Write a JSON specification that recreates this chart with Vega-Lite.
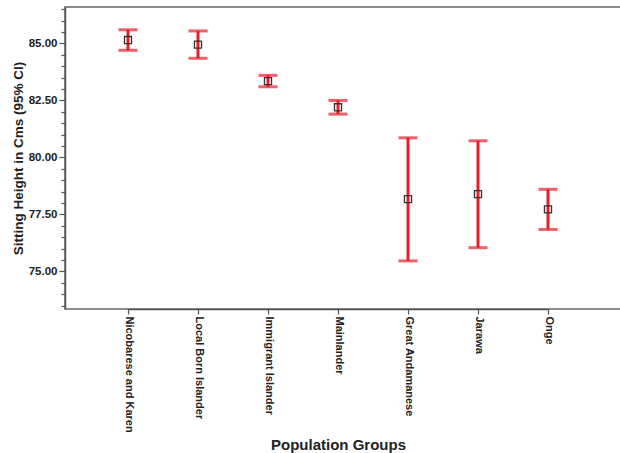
{
  "$schema": "https://vega.github.io/schema/vega-lite/v6.json",
  "autosize": "none",
  "width": 560,
  "height": 302,
  "padding": {"left": 65, "top": 7, "right": 0, "bottom": 144},
  "background": "white",
  "data": {"values": [
    {"group": "Nicobarese and Karen", "mean": 85.15, "lower": 84.7, "upper": 85.6},
    {"group": "Local Born Islander", "mean": 84.95, "lower": 84.35, "upper": 85.55},
    {"group": "Immigrant Islander", "mean": 83.35, "lower": 83.1, "upper": 83.6},
    {"group": "Mainlander", "mean": 82.2, "lower": 81.9, "upper": 82.5},
    {"group": "Great Andamanese", "mean": 78.17, "lower": 75.46, "upper": 80.86},
    {"group": "Jarawa", "mean": 78.39, "lower": 76.04, "upper": 80.73},
    {"group": "Onge", "mean": 77.72, "lower": 76.84, "upper": 78.6}
  ]},
  "encoding": {
    "x": {
      "field": "group", "type": "nominal", "sort": null,
      "scale": {"type": "point", "range": [63, 483], "padding": 0},
      "axis": {
        "title": "Population Groups", "titleFontSize": 15, "titleY": 135, "titleBaseline": "middle",
        "labelAngle": 90, "labelAlign": "left", "labelBaseline": "middle", "labelFontSize": 11,
        "tickSize": 5, "labelPadding": 2, "labelOverlap": false
      }
    }
  },
  "layer": [
    {
      "mark": {"type": "rule", "color": "#e61e2a", "strokeWidth": 3},
      "encoding": {
        "y": {"field": "lower", "type": "quantitative",
          "scale": {"domain": [73.35, 86.6], "nice": false, "zero": false},
          "axis": {
            "title": "Sitting Height in Cms (95% CI)", "titleFontSize": 13.5,
            "titleX": -47, "titleY": 151, "titleAngle": 270, "titleAlign": "center", "titleBaseline": "middle",
            "values": [73.5, 74, 74.5, 75, 75.5, 76, 76.5, 77, 77.5, 78, 78.5, 79, 79.5, 80, 80.5, 81, 81.5, 82, 82.5, 83, 83.5, 84, 84.5, 85, 85.5, 86, 86.5],
            "tickCount": 60,
            "labelExpr": "datum.value % 2.5 === 0 ? format(datum.value, '.2f') : ''",
            "tickSize": {"condition": {"test": "datum.value % 2.5 === 0", "value": 6}, "value": 4},
            "labelFontSize": 11.5, "labelPadding": 2, "labelOverlap": false, "labelBound": false, "labelFlush": false
          }
        },
        "y2": {"field": "upper"}
      }
    },
    {
      "mark": {"type": "tick", "color": "#e61e2a", "thickness": 3, "size": 19},
      "encoding": {"y": {"field": "lower", "type": "quantitative"}}
    },
    {
      "mark": {"type": "tick", "color": "#e61e2a", "thickness": 3, "size": 19},
      "encoding": {"y": {"field": "upper", "type": "quantitative"}}
    },
    {
      "mark": {"type": "point", "shape": "square", "filled": false, "stroke": "#333", "strokeWidth": 1.3, "size": 50, "opacity": 1},
      "encoding": {"y": {"field": "mean", "type": "quantitative"}}
    }
  ],
  "config": {
    "view": {"stroke": "#666", "strokeWidth": 1.5},
    "axis": {
      "grid": false, "domainColor": "#555", "domainWidth": 1.5, "tickColor": "#555", "tickWidth": 1.2,
      "labelFont": "Liberation Sans", "labelFontWeight": "bold", "labelColor": "#222",
      "titleFont": "Liberation Sans", "titleFontWeight": "bold", "titleColor": "#222"
    }
  }
}
